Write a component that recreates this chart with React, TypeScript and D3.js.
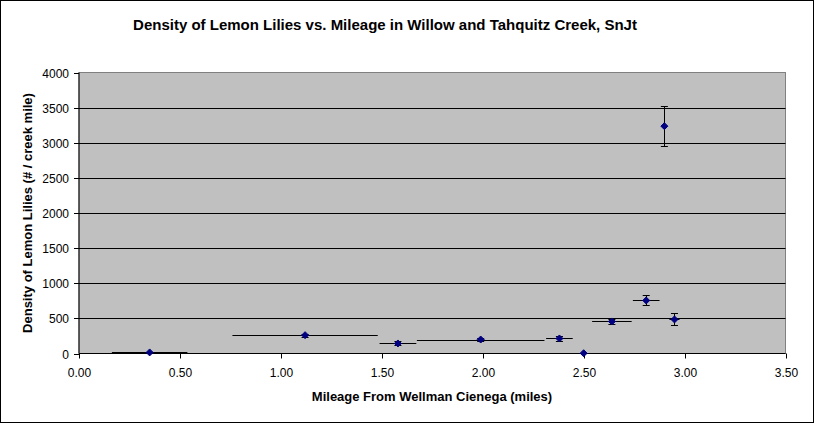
import * as d3 from "d3";

// readings: mile position, plants per creek mile, and their error bars
const mileage = [0.35, 1.12, 1.58, 1.99, 2.38, 2.5, 2.64, 2.81, 2.95, 2.9];
const density = [15, 261, 143, 199, 214, 4, 456, 755, 485, 3236];
const mileageErr = [0.187, 0.36, 0.091, 0.316, 0.066, 0, 0.098, 0.066, 0.025, 0];
const densityErr = [8, 20, 28, 15, 40, 0, 35, 71, 85, 285];

const xTickValues = [0, 0.5, 1, 1.5, 2, 2.5, 3, 3.5];
const yTickValues = [0, 500, 1000, 1500, 2000, 2500, 3000, 3500, 4000];

const title = "Density of Lemon Lilies vs. Mileage in Willow and Tahquitz Creek, SnJt";
const xLabel = "Mileage From Wellman Cienega (miles)";
const yLabel = "Density of Lemon Lilies (# / creek mile)";

export default function App() {
  const width = 814;
  const height = 423;
  const plot = { left: 79, right: 785.5, top: 72.5, bottom: 353.5 };
  const font = "Arial, 'Liberation Sans', sans-serif";

  const x = d3.scaleLinear().domain([0, 3.5]).range([plot.left, plot.right]);
  const y = d3.scaleLinear().domain([0, 4000]).range([plot.bottom, plot.top]);

  const points = mileage.map((m, i) => ({
    m,
    d: density[i],
    me: mileageErr[i],
    de: densityErr[i],
  }));

  const diamond = (cx: number, cy: number) =>
    `M${cx},${cy - 3.5}L${cx + 3.5},${cy}L${cx},${cy + 3.5}L${cx - 3.5},${cy}Z`;

  return (
    <svg
      width={width}
      height={height}
      style={{ position: "absolute", left: 0, top: 0 }}
      fontFamily={font}
    >
      <rect x={0.5} y={0.5} width={width - 1} height={height - 1} fill="white" stroke="black" />

      <text x={385} y={30} textAnchor="middle" fontSize={15} fontWeight="bold">
        {title}
      </text>

      {/* plot area */}
      <rect
        x={plot.left}
        y={plot.top}
        width={plot.right - plot.left}
        height={plot.bottom - plot.top}
        fill="#C0C0C0"
        stroke="#808080"
      />

      {/* gridlines */}
      {yTickValues.slice(1, -1).map((t) => (
        <line
          key={t}
          x1={plot.left}
          x2={plot.right}
          y1={Math.round(y(t)) + 0.5}
          y2={Math.round(y(t)) + 0.5}
          stroke="black"
        />
      ))}

      {/* axes */}
      <line x1={plot.left} x2={plot.left} y1={plot.top} y2={plot.bottom} stroke="black" />
      <line x1={plot.left} x2={plot.right} y1={plot.bottom} y2={plot.bottom} stroke="black" />

      {yTickValues.map((t) => (
        <g key={t} transform={`translate(${plot.left}, ${Math.round(y(t)) + 0.5})`}>
          <line x1={-5} x2={0} stroke="black" />
          <text x={-10} dy="0.35em" textAnchor="end" fontSize={12}>
            {t}
          </text>
        </g>
      ))}

      {xTickValues.map((t) => (
        <g key={t} transform={`translate(${Math.round(x(t)) + 0.5}, ${plot.bottom})`}>
          <line y1={0} y2={5} stroke="black" />
          <text y={23} textAnchor="middle" fontSize={12}>
            {t.toFixed(2)}
          </text>
        </g>
      ))}

      {/* error bars */}
      {points.map((p, i) => (
        <g key={i} stroke="black" strokeWidth={1}>
          {p.me > 0 && (
            <line
              x1={x(p.m - p.me)}
              x2={x(p.m + p.me)}
              y1={Math.round(y(p.d)) + 0.5}
              y2={Math.round(y(p.d)) + 0.5}
            />
          )}
          {p.de > 0 && (
            <>
              <line
                x1={Math.round(x(p.m)) + 0.5}
                x2={Math.round(x(p.m)) + 0.5}
                y1={y(p.d - p.de)}
                y2={y(p.d + p.de)}
              />
              <line
                x1={x(p.m) - 3.5}
                x2={x(p.m) + 3.5}
                y1={Math.round(y(p.d + p.de)) + 0.5}
                y2={Math.round(y(p.d + p.de)) + 0.5}
              />
              <line
                x1={x(p.m) - 3.5}
                x2={x(p.m) + 3.5}
                y1={Math.round(y(p.d - p.de)) + 0.5}
                y2={Math.round(y(p.d - p.de)) + 0.5}
              />
            </>
          )}
        </g>
      ))}

      {/* markers */}
      {points.map((p, i) => (
        <path key={i} d={diamond(x(p.m), y(p.d))} fill="#000080" stroke="#000080" strokeWidth={1} />
      ))}

      <text x={432} y={401} textAnchor="middle" fontSize={13} fontWeight="bold">
        {xLabel}
      </text>
      <text
        transform={`translate(32, 213) rotate(-90)`}
        textAnchor="middle"
        fontSize={13}
        fontWeight="bold"
      >
        {yLabel}
      </text>
    </svg>
  );
}
